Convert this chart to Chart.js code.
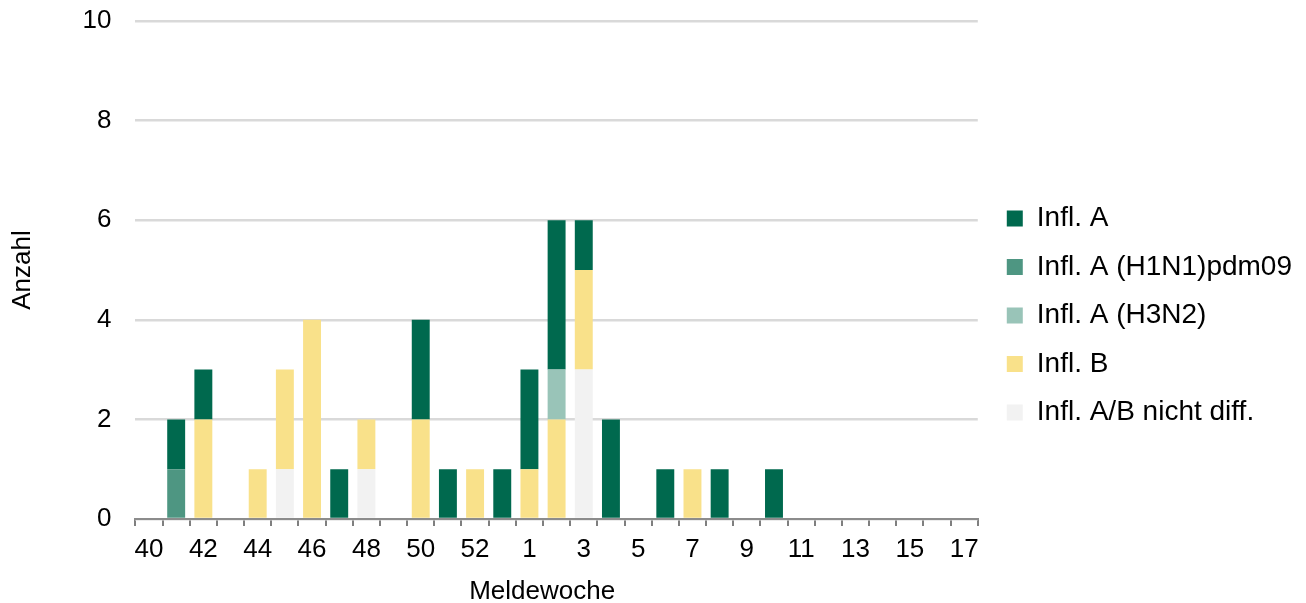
<!DOCTYPE html>
<html>
<head>
<meta charset="utf-8">
<script src="https://cdn.jsdelivr.net/npm/chart.js@4"></script>
<style>
html,body{margin:0;padding:0;background:#fff;}
#wrap{width:1306px;height:603px;position:relative;}
</style>
</head>
<body>
<div id="wrap"><canvas id="c"></canvas></div>
<script>
const weeks = ['40','41','42','43','44','45','46','47','48','49','50','51','52','53','1','2','3','4','5','6','7','8','9','10','11','12','13','14','15','16','17'];
const inflA =      [0,1,1,0,0,0,0,1,0,0,2,1,0,1,2,3,1,2,0,1,0,1,0,1,0,0,0,0,0,0,0];
const inflH1N1 =   [0,1,0,0,0,0,0,0,0,0,0,0,0,0,0,0,0,0,0,0,0,0,0,0,0,0,0,0,0,0,0];
const inflH3N2 =   [0,0,0,0,0,0,0,0,0,0,0,0,0,0,0,1,0,0,0,0,0,0,0,0,0,0,0,0,0,0,0];
const inflB =      [0,0,2,0,1,2,4,0,1,0,2,0,1,0,1,2,2,0,0,0,1,0,0,0,0,0,0,0,0,0,0];
const inflND =     [0,0,0,0,0,1,0,0,1,0,0,0,0,0,0,0,3,0,0,0,0,0,0,0,0,0,0,0,0,0,0];
const yTicks = [0,2,4,6,8,10];

const FONT = '"Liberation Sans", Arial, sans-serif';
Chart.defaults.font.family = FONT;
Chart.defaults.color = '#000';

const mk = (label, data, color) => ({label, data, backgroundColor: color, borderWidth: 0, barPercentage: 0.66, categoryPercentage: 1.0});

new Chart(document.getElementById('c'), {
  type: 'bar',
  data: {
    labels: weeks,
    datasets: [
      mk('Infl. A/B nicht diff.', inflND, '#f2f2f2'),
      mk('Infl. B', inflB, '#f9e18a'),
      mk('Infl. A (H3N2)', inflH3N2, '#99c4b8'),
      mk('Infl. A (H1N1)pdm09', inflH1N1, '#4e9682'),
      mk('Infl. A', inflA, '#00694e')
    ]
  },
  options: {
    responsive: true,
    maintainAspectRatio: false,
    animation: false,
    layout: {padding: {top: 0, left: 0, right: 4, bottom: -2}},
    plugins: {
      tooltip: {enabled: false},
      legend: {
        position: 'right',
        reverse: true,
        align: 'center',
        maxWidth: 400,
        title: {display: true, text: ' ', font: {size: 10, lineHeight: 1}, padding: {top: 8, bottom: 8}},
        labels: {font: {size: 28, family: FONT}, color: '#000', boxWidth: 16, boxHeight: 16, padding: 20.5}
      }
    },
    scales: {
      x: {
        stacked: true,
        offset: true,
        grid: {offset: true, drawOnChartArea: false, drawTicks: true, tickLength: 7, color: '#7f7f7f', lineWidth: 2},
        border: {display: true, color: '#8c8c8c', width: 2},
        ticks: {
          autoSkip: false, maxRotation: 0, padding: 11,
          font: {size: 26, family: FONT, lineHeight: 1}, color: '#000',
          callback: function(v, i){ return i % 2 === 0 ? weeks[i] : ''; }
        },
        title: {display: true, text: 'Meldewoche    ', font: {size: 26, family: FONT, lineHeight: 1}, color: '#000', padding: {top: 5, bottom: 0}}
      },
      y: {
        stacked: true,
        min: 0, max: 10,
        afterBuildTicks: (ax) => { ax.ticks = yTicks.map(v => ({value: v})); },
        afterFit: (s) => { s.paddingTop = 21; s.paddingBottom = 0; },
        grid: {color: '#d9d9d9', lineWidth: 2.5, drawTicks: false},
        border: {display: false},
        ticks: {font: {size: 26, family: FONT}, color: '#000', padding: 24},
        title: {display: true, text: 'Anzahl', font: {size: 26, family: FONT, lineHeight: 1}, color: '#000', padding: {top: 9.5, bottom: 23}}
      },
      yr: {
        position: 'right',
        display: true,
        grid: {display: false},
        border: {display: false},
        ticks: {display: false},
        afterFit: (s) => { s.width = 8.5; }
      }
    }
  }
});
</script>
</body>
</html>
